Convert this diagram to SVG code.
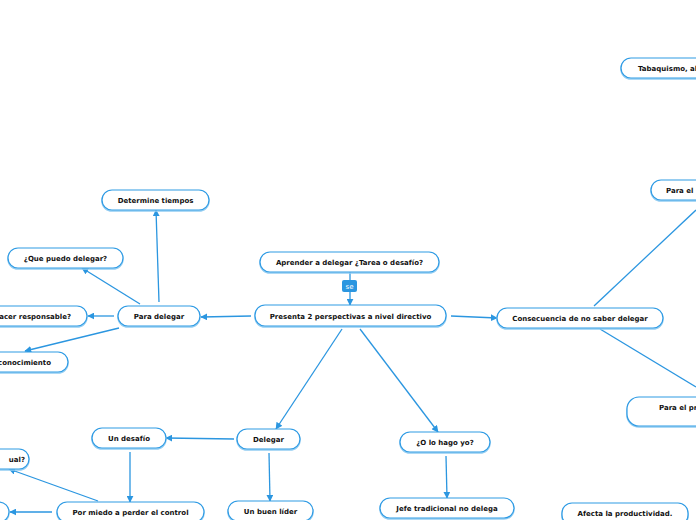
<svg xmlns="http://www.w3.org/2000/svg" width="696" height="520" viewBox="0 0 696 520">
<defs>
<marker id="arr" viewBox="0 0 10 10" refX="9" refY="5" markerWidth="7" markerHeight="7" markerUnits="userSpaceOnUse" orient="auto">
<path d="M0,0 L10,5 L0,10 z" fill="#2b96e0"/>
</marker>
<style>
.n rect.b{fill:#fff;stroke:#2f9be4;stroke-width:1.2}
.n rect.s{fill:none;stroke:#93cdf2;stroke-width:1.6}
.n text{font-family:"DejaVu Sans",Verdana,sans-serif;font-weight:bold;font-size:7px;fill:#111}
.c line{stroke:#2b96e0;stroke-width:1.3}
.c line.a{marker-end:url(#arr)}
</style>
</defs>
<rect width="696" height="520" fill="#fff"/>
<g class="c">
<line class="a" x1="350" y1="272" x2="350" y2="305"/>
<line class="a" x1="251" y1="316" x2="201" y2="317"/>
<line class="a" x1="451" y1="316" x2="497" y2="318"/>
<line class="a" x1="342" y1="329" x2="276" y2="429"/>
<line class="a" x1="360" y1="329" x2="438" y2="432"/>
<line class="a" x1="159" y1="302" x2="156" y2="210"/>
<line class="a" x1="140" y1="304" x2="82" y2="268"/>
<line class="a" x1="114" y1="316" x2="88" y2="316"/>
<line class="a" x1="119" y1="328" x2="25" y2="351"/>
<line x1="594" y1="306" x2="696" y2="210"/>
<line x1="600" y1="329" x2="696" y2="387"/>
<line class="a" x1="234" y1="439" x2="166" y2="438"/>
<line class="a" x1="269" y1="453" x2="270" y2="501"/>
<line class="a" x1="130" y1="452" x2="130" y2="502"/>
<line class="a" x1="98" y1="501" x2="9" y2="469"/>
<line class="a" x1="52" y1="512" x2="10" y2="512"/>
<line class="a" x1="446" y1="456" x2="447" y2="498"/>
</g>
<g id="se-label">
<rect x="342" y="280" width="15" height="12" rx="2" fill="#2b96e0"/>
<text x="349.5" y="289" text-anchor="middle" font-family="DejaVu Sans,sans-serif" font-size="7" fill="#fff">se</text>
</g>
<g id="tabaquismo" class="n"><rect class="s" x="621" y="59" width="100" height="20" rx="10"/><rect class="b" x="621" y="58" width="100" height="20" rx="10"/><text x="638" y="71">Tabaquismo, al</text></g>
<g id="parael1" class="n"><rect class="s" x="651" y="181" width="70" height="20" rx="10"/><rect class="b" x="651" y="180" width="70" height="20" rx="10"/><text x="666" y="193">Para el</text></g>
<g id="parael2" class="n"><rect class="s" x="627" y="398" width="90" height="29" rx="12"/><rect class="b" x="627" y="397" width="90" height="29" rx="12"/><text x="659" y="410">Para el pr</text></g>
<g id="afecta" class="n"><rect class="s" x="562" y="504" width="126" height="22" rx="10"/><rect class="b" x="562" y="503" width="126" height="22" rx="10"/><text x="625" y="516" text-anchor="middle">Afecta la productividad.</text></g>
<g id="aprender" class="n"><rect class="s" x="260" y="253" width="179" height="20" rx="10"/><rect class="b" x="260" y="252" width="179" height="20" rx="10"/><text x="349.5" y="265" text-anchor="middle">Aprender a delegar ¿Tarea o desafío?</text></g>
<g id="presenta" class="n"><rect class="s" x="255" y="306" width="191" height="21" rx="10"/><rect class="b" x="255" y="305" width="191" height="21" rx="10"/><text x="350.5" y="319" text-anchor="middle">Presenta 2 perspectivas a nivel directivo</text></g>
<g id="paradelegar" class="n"><rect class="s" x="118" y="307" width="82" height="20" rx="10"/><rect class="b" x="118" y="306" width="82" height="20" rx="10"/><text x="159" y="319" text-anchor="middle">Para delegar</text></g>
<g id="determine" class="n"><rect class="s" x="102" y="191" width="107" height="20" rx="10"/><rect class="b" x="102" y="190" width="107" height="20" rx="10"/><text x="155.5" y="203" text-anchor="middle">Determine tiempos</text></g>
<g id="quepuedo" class="n"><rect class="s" x="8" y="249" width="115" height="20" rx="10"/><rect class="b" x="8" y="248" width="115" height="20" rx="10"/><text x="65.5" y="261" text-anchor="middle">¿Que puedo delegar?</text></g>
<g id="responsable" class="n"><rect class="s" x="-60" y="307" width="147" height="20" rx="10"/><rect class="b" x="-60" y="306" width="147" height="20" rx="10"/><text x="71" y="319" text-anchor="end">acer responsable?</text></g>
<g id="conocimiento" class="n"><rect class="s" x="-60" y="353" width="128" height="20" rx="10"/><rect class="b" x="-60" y="352" width="128" height="20" rx="10"/><text x="51" y="365" text-anchor="end">conocimiento</text></g>
<g id="consecuencia" class="n"><rect class="s" x="497" y="309" width="166" height="20" rx="10"/><rect class="b" x="497" y="308" width="166" height="20" rx="10"/><text x="580" y="321" text-anchor="middle">Consecuencia de no saber delegar</text></g>
<g id="delegar" class="n"><rect class="s" x="237" y="430" width="63" height="20" rx="10"/><rect class="b" x="237" y="429" width="63" height="20" rx="10"/><text x="268.5" y="442" text-anchor="middle">Delegar</text></g>
<g id="desafio" class="n"><rect class="s" x="92" y="429" width="74" height="20" rx="10"/><rect class="b" x="92" y="428" width="74" height="20" rx="10"/><text x="129" y="441" text-anchor="middle">Un desafío</text></g>
<g id="ual" class="n"><rect class="s" x="-60" y="450" width="89" height="20" rx="10"/><rect class="b" x="-60" y="449" width="89" height="20" rx="10"/><text x="25" y="462" text-anchor="end">ual?</text></g>
<g id="leftbottom" class="n"><rect class="s" x="-60" y="503" width="69" height="20" rx="10"/><rect class="b" x="-60" y="502" width="69" height="20" rx="10"/></g>
<g id="pormiedo" class="n"><rect class="s" x="57" y="503" width="147" height="20" rx="10"/><rect class="b" x="57" y="502" width="147" height="20" rx="10"/><text x="130.5" y="515" text-anchor="middle">Por miedo a perder el control</text></g>
<g id="buenlider" class="n"><rect class="s" x="228" y="502" width="85" height="20" rx="10"/><rect class="b" x="228" y="501" width="85" height="20" rx="10"/><text x="270.5" y="514" text-anchor="middle">Un buen líder</text></g>
<g id="ohago" class="n"><rect class="s" x="400" y="433" width="90" height="20" rx="10"/><rect class="b" x="400" y="432" width="90" height="20" rx="10"/><text x="445" y="445" text-anchor="middle">¿O lo hago yo?</text></g>
<g id="jefe" class="n"><rect class="s" x="380" y="499" width="134" height="20" rx="10"/><rect class="b" x="380" y="498" width="134" height="20" rx="10"/><text x="447" y="511" text-anchor="middle">Jefe tradicional no delega</text></g>
</svg>
